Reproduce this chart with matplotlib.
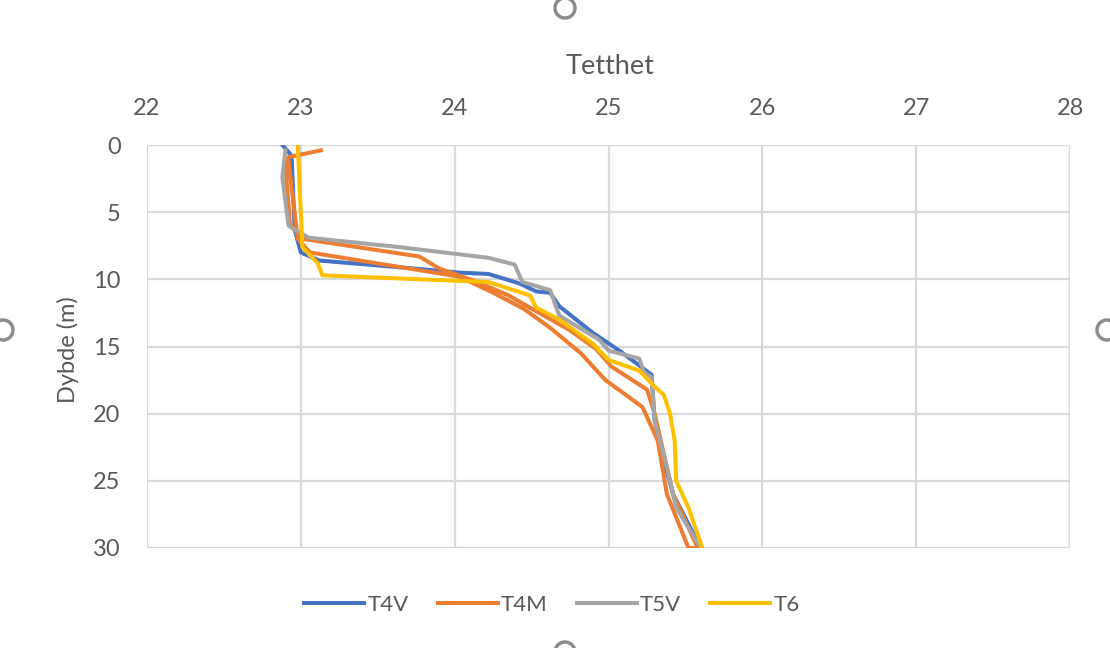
import matplotlib.pyplot as plt
from matplotlib.patches import Ellipse

plt.rcParams['font.family'] = ['Lato', 'DejaVu Sans']

# density profiles (Tetthet) against depth (m)
t4v_dens = [22.88, 22.94, 22.96, 23.00, 23.12, 23.64, 24.03, 24.22, 24.42, 24.53, 24.62, 24.68,
            24.90, 25.07, 25.28, 25.30, 25.36, 25.42, 25.60]
t4v_depth = [0.0, 0.8, 6.3, 8.0, 8.6, 9.1, 9.5, 9.6, 10.3, 10.9, 11.0, 12.0,
             14.0, 15.3, 17.1, 20.5, 23.5, 26.0, 30.0]

# T4M goes down and back up again
t4m_dens = [23.13, 22.92, 22.90, 22.93, 23.02, 23.77, 23.90, 24.15, 24.35, 24.55, 24.75, 24.92,
            25.02, 25.25, 25.30, 25.36, 25.42, 25.58,
            25.52, 25.38, 25.32, 25.22, 24.98, 24.82, 24.62, 24.45, 24.25, 24.03, 23.06, 22.98, 22.92]
t4m_depth = [0.4, 0.9, 1.5, 6.0, 7.0, 8.3, 9.2, 10.2, 11.2, 12.5, 13.8, 15.2,
             16.5, 18.2, 20.0, 23.0, 26.0, 30.0,
             30.0, 26.0, 22.0, 19.5, 17.5, 15.5, 13.6, 12.2, 11.0, 9.8, 8.0, 7.0, 1.2]

t5v_dens = [22.90, 22.88, 22.92, 23.05, 23.64, 24.22, 24.39, 24.44, 24.62, 24.68, 24.94, 25.00,
            25.20, 25.23, 25.28, 25.30, 25.38, 25.44, 25.60]
t5v_depth = [0.4, 2.4, 6.0, 6.9, 7.6, 8.4, 8.9, 10.2, 10.8, 12.7, 14.5, 15.3,
             15.9, 16.9, 17.3, 20.5, 24.0, 27.0, 30.0]

t6_dens = [22.98, 23.01, 23.11, 23.14, 23.78, 24.22, 24.49, 24.53, 24.68, 24.90, 25.00, 25.20,
           25.31, 25.36, 25.40, 25.43, 25.44, 25.52, 25.61]
t6_depth = [0.0, 7.6, 8.8, 9.7, 10.0, 10.2, 11.2, 12.1, 13.0, 14.8, 16.0, 16.8,
            18.1, 18.6, 20.0, 22.0, 25.0, 27.0, 30.0]

x_ticks = [22, 23, 24, 25, 26, 27, 28]
y_ticks = [0, 5, 10, 15, 20, 25, 30]

txt = '#595959'
grid = '#d9d9d9'

fig = plt.figure(figsize=(11.1, 6.48), dpi=100)
ax = fig.add_axes([147 / 1110, 1 - 548 / 648, 923 / 1110, 403 / 648])

lw = 2.9
ax.plot(t4v_dens, t4v_depth, color='#4472C4', lw=lw, label='T4V')
ax.plot(t4m_dens, t4m_depth, color='#ED7D31', lw=lw, label='T4M')
ax.plot(t5v_dens, t5v_depth, color='#A5A5A5', lw=lw, label='T5V')
ax.plot(t6_dens, t6_depth, color='#FFC000', lw=lw, label='T6')

ax.set_xlim(22, 28)
ax.set_ylim(30, 0)
ax.set_xticks(x_ticks)
ax.set_yticks(y_ticks)
ax.xaxis.tick_top()
ax.tick_params(length=0, labelsize=17, colors=txt)
ax.tick_params(axis='x', pad=19)
ax.tick_params(axis='y', pad=19)
ax.grid(True, color=grid, lw=1.6)
ax.set_axisbelow(True)
for s in ax.spines.values():
    s.set_visible(False)
# outer box made of the end gridlines
for v in (22, 28):
    ax.axvline(v, color=grid, lw=1.6, zorder=0)
for v in (0, 30):
    ax.axhline(v, color=grid, lw=1.6, zorder=0)

fig.text(610 / 1110, 1 - 66 / 648, 'Tetthet', fontsize=19.5, color=txt, ha='center', va='center')
fig.text(68 / 1110, 1 - 350 / 648, 'Dybde (m)', fontsize=17, color=txt, ha='center', va='center',
         rotation=90)

fig.legend(loc='center', bbox_to_anchor=(552 / 1110, 1 - 605 / 648), ncol=4, frameon=False,
           fontsize=16, labelcolor=txt, handlelength=2.7, handletextpad=0.15, columnspacing=1.3)

# selection handles around the chart frame
for cx, cy in [(565, 8), (3, 330), (1107, 330), (565, 652)]:
    fig.patches.append(Ellipse((cx / 1110, 1 - cy / 648), 20 / 1110, 20 / 648,
                               transform=fig.transFigure, facecolor='white',
                               edgecolor='#8c8c8c', lw=2.5, zorder=5))

fig.savefig('out.png', dpi=100, facecolor='white')
